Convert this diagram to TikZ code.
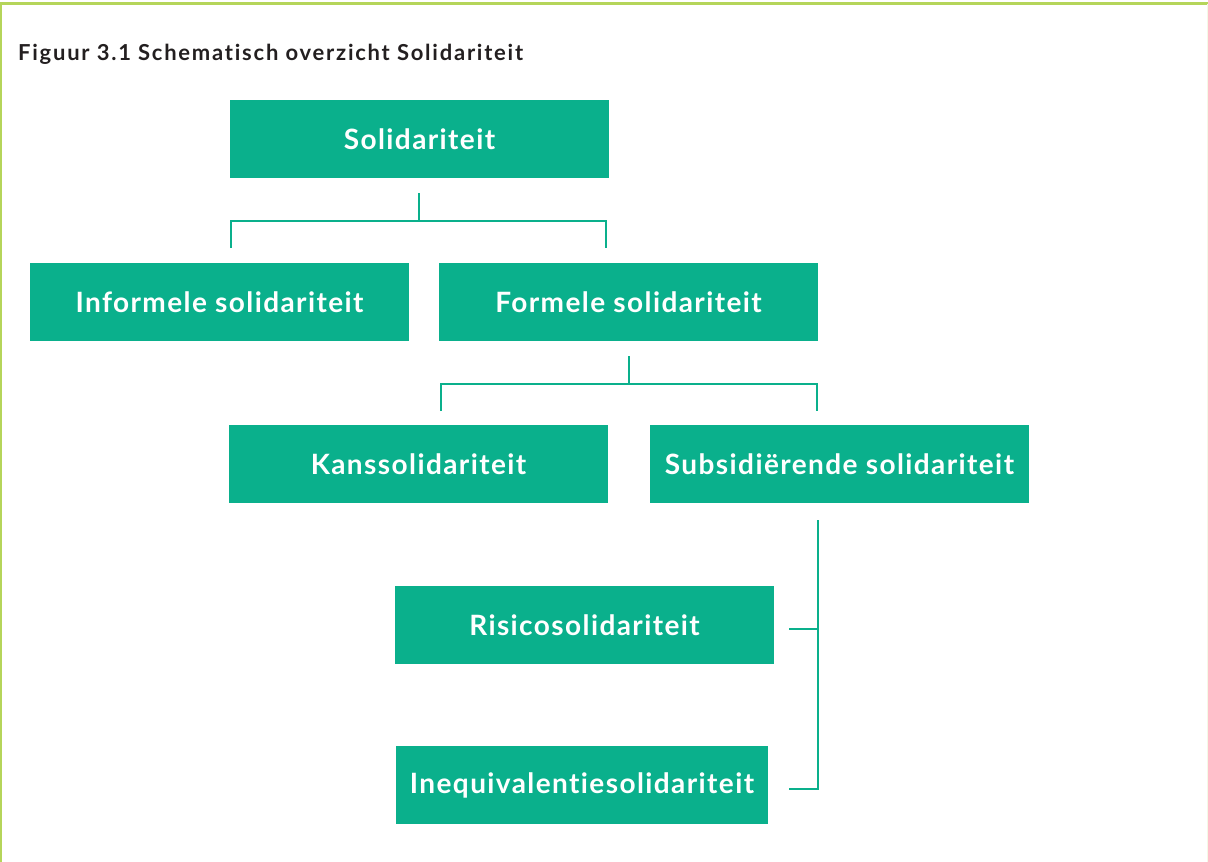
\documentclass[tikz,border=0pt]{standalone}
\usepackage{fontspec}
\setmainfont{Lato}[LetterSpace=5, Ligatures=CommonOff]
\newfontfamily\titlefont{Lato}[LetterSpace=8, Ligatures=CommonOff]
\definecolor{solgreen}{HTML}{0AB08C}
\definecolor{framelime}{HTML}{B5D55A}
\definecolor{titlegray}{HTML}{231F20}

\begin{document}
\begin{tikzpicture}[x=1pt,y=-1pt,
    box/.style={fill=solgreen, text=white, minimum width=379pt, minimum height=78pt,
      inner sep=0pt, font=\fontsize{28}{32}\selectfont\bfseries},
    link/.style={draw=solgreen, line width=2pt}]
    \useasboundingbox (0,0) rectangle (1208,862);
    \draw[framelime, line width=2.5pt] (1,862) -- (1,3.5) -- (1208,3.5);
    \draw[framelime!15, line width=1pt] (1207.5,3.5) -- (1207.5,862);
    \node[anchor=base west, inner sep=0pt, text=titlegray,
      font=\titlefont\fontsize{22}{26}\selectfont\bfseries] (title) at (18,60)
      {Figuur 3.1 Schematisch overzicht Solidariteit};
    \node[box] (sol) at (419.5,139) {Solidariteit};
    \node[box] (inf) at (219.5,302) {Informele solidariteit};
    \node[box] (form) at (628.5,302) {Formele solidariteit};
    \node[box] (kans) at (418.5,464) {Kanssolidariteit};
    \node[box] (sub) at (839.5,464) {Subsidiërende solidariteit};
    \node[box] (ris) at (584.5,625) {Risicosolidariteit};
    \node[box, minimum width=372pt] (ineq) at (582,785) {Inequivalentiesolidariteit};
    % connectors
    \coordinate (sol-out) at (419,193);
    \coordinate (sol-split) at (419,221);
    \coordinate (inf-in) at (231,248);
    \coordinate (form-in) at (606,248);
    \coordinate (form-out) at (629,356);
    \coordinate (form-split) at (629,384);
    \coordinate (kans-in) at (441,411);
    \coordinate (sub-in) at (817,411);
    \coordinate (sub-out) at (818,520);
    \coordinate (sub-end) at (818,789);
    \coordinate (ris-in) at (789,629);
    \coordinate (ineq-in) at (789,789);
    \draw[link] (sol-out) -- (sol-split);
    \draw[link] (inf-in) |- (sol-split) -| (form-in);
    \draw[link] (form-out) -- (form-split);
    \draw[link] (kans-in) |- (form-split) -| (sub-in);
    \draw[link] (sub-out) -- (sub-end) -- (ineq-in);
    \draw[link] (ris-in) -- (ris-in -| sub-out);
\end{tikzpicture}
\end{document}
